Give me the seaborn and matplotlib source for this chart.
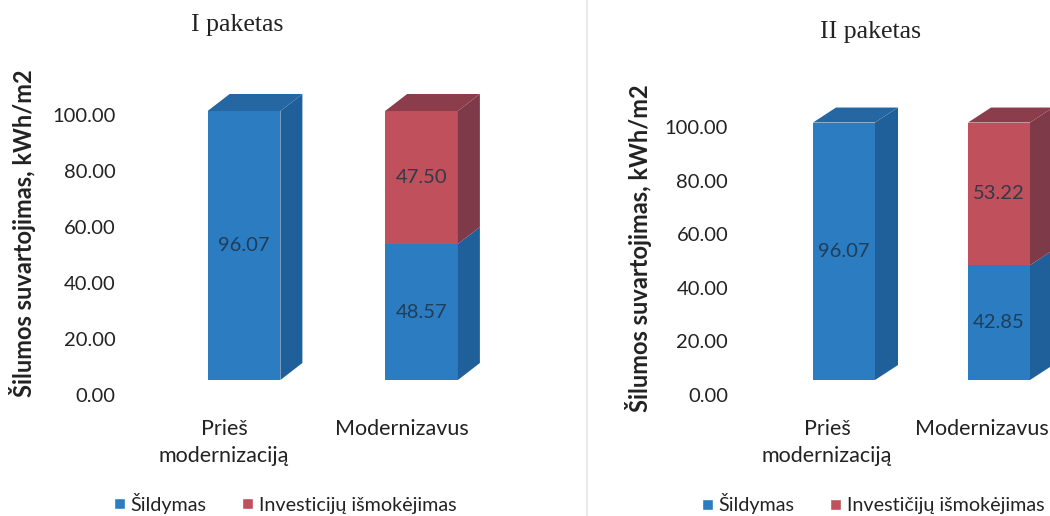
import matplotlib
matplotlib.use("Agg")
import matplotlib.pyplot as plt
import matplotlib.transforms as mtransforms
from matplotlib.patches import Polygon, Patch
import seaborn as sns

# DATA
categories = ["Prieš\nmodernizaciją", "Modernizavus"]
heating_1 = [96.07, 48.57]
invest_1 = [0.0, 47.50]
heating_2 = [96.07, 42.85]
invest_2 = [0.0, 53.22]
titles = ["I paketas", "II paketas"]
y_label = "Šilumos suvartojimas, kWh/m2"
legend_labels_1 = ["Šildymas", "Investicijų išmokėjimas"]
legend_labels_2 = ["Šildymas", "Investičijų išmokėjimas"]
y_ticks = [0, 20, 40, 60, 80, 100]

# colours (front, side, top)
blue = ("#2b7cc0", "#20609a", "#2567a3")
red = ("#c0505b", "#7e3a48", "#8c3d4c")

sns.set_theme(style="white")
plt.rcParams["font.family"] = ["Lato", "DejaVu Sans"]

fig = plt.figure(figsize=(10.5, 5.16), dpi=100)
W, H = 1050, 516


def add_axes_px(left, right, bottom, top):
    return fig.add_axes([left / W, (H - bottom) / H, (right - left) / W, (bottom - top) / H])


def draw_panel(ax, heat, inv, title, leg_labels, xlim, ylim, depth, tick_shift,
               cat_shift, title_xy, ylab_x, leg_xy, bar_w):
    sns.barplot(x=categories, y=heat, color=blue[0], width=bar_w, ax=ax,
                saturation=1, linewidth=0)
    sns.barplot(x=categories, y=inv, bottom=heat, color=red[0], width=bar_w, ax=ax,
                saturation=1, linewidth=0)
    ax.set_xlim(*xlim)
    ax.set_ylim(*ylim)

    # pixel -> data scaling for the 3D depth
    bb = ax.get_window_extent()
    sx = (xlim[1] - xlim[0]) / bb.width
    sy = (ylim[1] - ylim[0]) / bb.height
    ddx, ddy = depth[0] * sx, depth[1] * sy

    # side faces for every segment, top face only on the highest segment
    stacks = list(zip(ax.containers[0].patches, ax.containers[1].patches))
    for lower, upper in stacks:
        segs = [(p, c) for p, c in [(lower, blue), (upper, red)] if p.get_height() > 0]
        for i, (p, cols) in enumerate(segs):
            x0, y0 = p.get_x(), p.get_y()
            x1, y1 = x0 + p.get_width(), y0 + p.get_height()
            ax.add_patch(Polygon([(x1, y0), (x1, y1), (x1 + ddx, y1 + ddy), (x1 + ddx, y0 + ddy)],
                                 closed=True, facecolor=cols[1], edgecolor="none", clip_on=False))
            if i == len(segs) - 1:
                ax.add_patch(Polygon([(x0, y1), (x1, y1), (x1 + ddx, y1 + ddy), (x0 + ddx, y1 + ddy)],
                                     closed=True, facecolor=cols[2], edgecolor="none", clip_on=False))
            p.set_clip_on(False)

    for cont, vals in zip(ax.containers, [heat, inv]):
        labs = [f"{v:.2f}" if v > 0 else "" for v in vals]
        ax.bar_label(cont, labels=labs, label_type="center", fontsize=14.5,
                     color="#1d3347", alpha=0.85)

    ax.set_yticks(y_ticks)
    ax.set_yticklabels([f"{t:.2f}" for t in y_ticks], fontsize=14.5, color="#222222")
    ax.tick_params(axis="y", length=0, pad=22)
    ax.tick_params(axis="x", length=0, pad=28, labelsize=15.5, labelcolor="#222222")
    off_y = mtransforms.ScaledTranslation(0, -tick_shift / 100, fig.dpi_scale_trans)
    for lab in ax.get_yticklabels():
        lab.set_transform(lab.get_transform() + off_y)
    off_x = mtransforms.ScaledTranslation(-cat_shift / 100, 0, fig.dpi_scale_trans)
    for lab in ax.get_xticklabels():
        lab.set_transform(lab.get_transform() + off_x)
        lab.set_linespacing(1.45)
    ax.set_xlabel("")
    ax.set_ylabel("")
    sns.despine(ax=ax, left=True, bottom=True)
    ax.grid(False)

    fig.text(title_xy[0] / W, 1 - title_xy[1] / H, title, ha="center", va="center",
             fontsize=18.5, family="Liberation Serif", color="#222222")
    fig.text(ylab_x / W, 1 - title_xy[2] / H, y_label, rotation=90, ha="center",
             va="center", fontsize=17, fontweight="bold", color="#222222")
    handles = [Patch(facecolor=blue[0]), Patch(facecolor=red[0])]
    fig.legend(handles, leg_labels, loc="center", bbox_to_anchor=(leg_xy[0] / W, 1 - leg_xy[1] / H),
               ncol=2, frameon=False, fontsize=14.2, handlelength=0.55, handleheight=0.55,
               handletextpad=0.3, columnspacing=1.8, labelcolor="#222222",
               borderpad=0.1)


# left panel: bar centres at 244 / 421.5 px, zero at 380 px, 2.8 px per unit
ax1 = add_axes_px(244 - 0.55 * 177.5, 244 + 1.6 * 177.5, 380, 380 - 110 * 2.8)
draw_panel(ax1, heating_1, invest_1, titles[0], legend_labels_1,
           (-0.55, 1.6), (0, 110), (22, 17), 15, 20, (237, 25, 233), 23, (285, 503), 0.41)

# right panel: bar centres at 844 / 999 px, zero at 380 px, 2.68 px per unit
ax2 = add_axes_px(844 - 0.55 * 155, 844 + 1.33 * 155, 380, 380 - 110 * 2.68)
draw_panel(ax2, heating_2, invest_2, titles[1], legend_labels_2,
           (-0.55, 1.33), (0, 110), (23, 15), 15, 17, (870, 32, 248), 638, (873, 504), 0.40)

# faint frame of the second chart
fig.add_artist(plt.Line2D([587 / W, 587 / W], [0, 1], color="#e6e6e6", lw=1.2))

fig.savefig("out.png", dpi=100, facecolor="white")
